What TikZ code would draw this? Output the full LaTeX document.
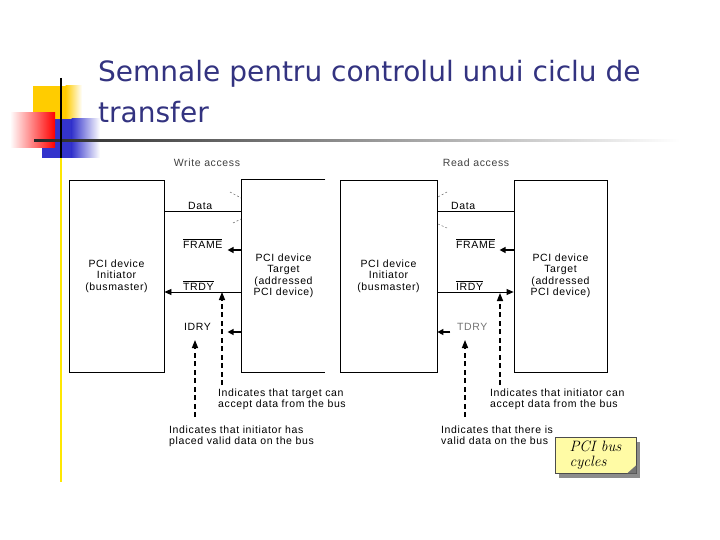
\documentclass[tikz,border=0pt]{standalone}
\usepackage{fontspec}
\newfontfamily\titlefont{DejaVu Sans}
\newfontfamily\sigfont{Liberation Sans}[LetterSpace=6]
\usetikzlibrary{arrows.meta,shadows}

\definecolor{titleblue}{HTML}{333380}
\definecolor{decoyellow}{HTML}{FFCC00}
\definecolor{decoblue}{HTML}{3333CC}
\definecolor{notefill}{HTML}{FFFBA5}

\begin{document}
\begin{tikzpicture}[x=1pt,y=-1pt,
  box/.style={draw,line width=0.8pt,minimum height=192pt,align=center,
    font=\sigfont\fontsize{10.5}{11.5}\selectfont},
  sig/.style={anchor=south west,inner sep=1.5pt,font=\sigfont\fontsize{10.5}{12}\selectfont},
  remark/.style={anchor=north west,inner sep=1.5pt,align=left,
    font=\sigfont\fontsize{10.5}{11.5}\selectfont},
  head/.style={inner sep=1pt,text=black!75,font=\sigfont\fontsize{10.5}{12}\selectfont},
  wire/.style={line width=0.8pt},
  stub/.style={line width=1.6pt,-{Triangle[length=6pt,width=6pt]}},
  pointer/.style={line width=1.4pt,dash pattern=on 5pt off 3.5pt,
    -{Triangle[length=8pt,width=6pt]}},
  ghost/.style={line width=0.5pt,black!60,dash pattern=on 2pt off 2pt}
]
  \useasboundingbox (0,0) rectangle (720,540);

  % corner decoration
  \fill[decoyellow] (33,86) rectangle (66,124);
  \shade[left color=decoyellow,right color=white] (65.5,86) rectangle (82,124);
  \fill[decoblue] (42,119) rectangle (72,158);
  \shade[left color=decoblue,right color=white] (71.5,119) rectangle (100,158);
  \shade[left color=white,right color=red] (10,113) rectangle (55,148);
  \shade[left color=black!85,right color=white] (34,140) rectangle (680,142);
  \draw[line width=2pt] (61,78) -- (61,158);
  \draw[line width=2pt,yellow!90!orange] (61,158) -- (61,482);

  % title
  \node[anchor=north west,inner sep=0pt,align=left,text=titleblue,
    font=\titlefont\fontsize{28}{41}\selectfont] (title) at (98,60)
    {Semnale pentru controlul unui ciclu de\\transfer};

  % write access
  \node[head] (whead) at (207,163) {Write access};
  \node[box,minimum width=95pt] (winit) at (116.5,276)
    {PCI device\\Initiator\\(busmaster)};
  \node[box,draw=none,minimum width=83pt] (wtgt) at (283.5,276)
    {PCI device\\Target\\(addressed\\PCI device)};
  \draw[line width=0.8pt] (wtgt.north east) -- (wtgt.north west)
    -- (wtgt.south west) -- (wtgt.south east);

  \node[sig] (wdata) at (186.5,211) {Data};
  \node[sig] (wframe) at (181.5,250) {$\overline{\mbox{FRAME}}$};
  \node[sig] (wtrdy) at (181.5,292) {$\overline{\mbox{TRDY}}$};
  \node[sig] (widry) at (182.5,332) {IDRY};

  \draw[wire] (winit.east |- wdata.south) -- (wtgt.west |- wdata.south);
  \draw[ghost] (230,192) -- (241,198);
  \draw[ghost] (233,223) -- (241,219);
  \draw[stub] (wtgt.west |- wframe.south) -- ++(-14,0);
  \draw[wire,-{Triangle[length=7pt,width=6pt]}]
    (wtgt.west |- wtrdy.south) -- (winit.east |- wtrdy.south);
  \draw[stub] (wtgt.west |- widry.south) -- ++(-14,0);

  \node[remark] (wnote1) at (216.5,387)
    {Indicates that target can\\accept data from the bus};
  \node[remark] (wnote2) at (167.5,424)
    {Indicates that initiator has\\placed valid data on the bus};
  \draw[pointer] ([xshift=5.5pt,yshift=2pt]wnote1.north west) -- ++(0,-93);
  \draw[pointer] ([xshift=27.5pt,yshift=7pt]wnote2.north west) -- ++(0,-77);

  % read access
  \node[head] (rhead) at (476,163) {Read access};
  \node[box,minimum width=97pt] (rinit) at (388.5,276)
    {PCI device\\Initiator\\(busmaster)};
  \node[box,minimum width=93pt] (rtgt) at (560.5,276)
    {PCI device\\Target\\(addressed\\PCI device)};

  \node[sig] (rdata) at (449.5,211) {Data};
  \node[sig] (rframe) at (454.5,250) {$\overline{\mbox{FRAME}}$};
  \node[sig] (rirdy) at (454.5,292) {$\overline{\mbox{IRDY}}$};
  \node[sig,text=black!55] (rtdry) at (455.5,332) {TDRY};

  \draw[wire] (rinit.east |- rdata.south) -- (rtgt.west |- rdata.south);
  \draw[ghost] (447,192) -- (438,197);
  \draw[ghost] (438,224) -- (447,228);
  \draw[stub] (rtgt.west |- rframe.south) -- ++(-14,0);
  \draw[wire,-{Triangle[length=7pt,width=6pt]}]
    (rinit.east |- rirdy.south) -- (rtgt.west |- rirdy.south);
  \draw[stub] ([xshift=13pt]rinit.east |- rtdry.south) -- (rinit.east |- rtdry.south);

  \node[remark] (rnote1) at (488.5,387)
    {Indicates that initiator can\\accept data from the bus};
  \node[remark] (rnote2) at (439.5,424)
    {Indicates that there is\\valid data on the bus};
  \draw[pointer] ([xshift=11.5pt,yshift=2pt]rnote1.north west) -- ++(0,-92);
  \draw[pointer] ([xshift=25.5pt,yshift=7pt]rnote2.north west) -- ++(0,-77);

  % sticky note
  \node[draw=black!70,line width=0.5pt,fill=notefill,minimum width=81pt,minimum height=36pt,
    align=left,inner sep=3pt,font=\rmfamily\itshape\fontsize{15}{15}\selectfont,
    drop shadow={shadow xshift=4pt,shadow yshift=-5pt,fill=black!45,opacity=1}]
    (cycles) at (595.5,455) {PCI bus\\cycles};
  \fill[black!55] (cycles.south east) -- ++(-9,0) -- ++(9,-8) -- cycle;
\end{tikzpicture}
\end{document}
